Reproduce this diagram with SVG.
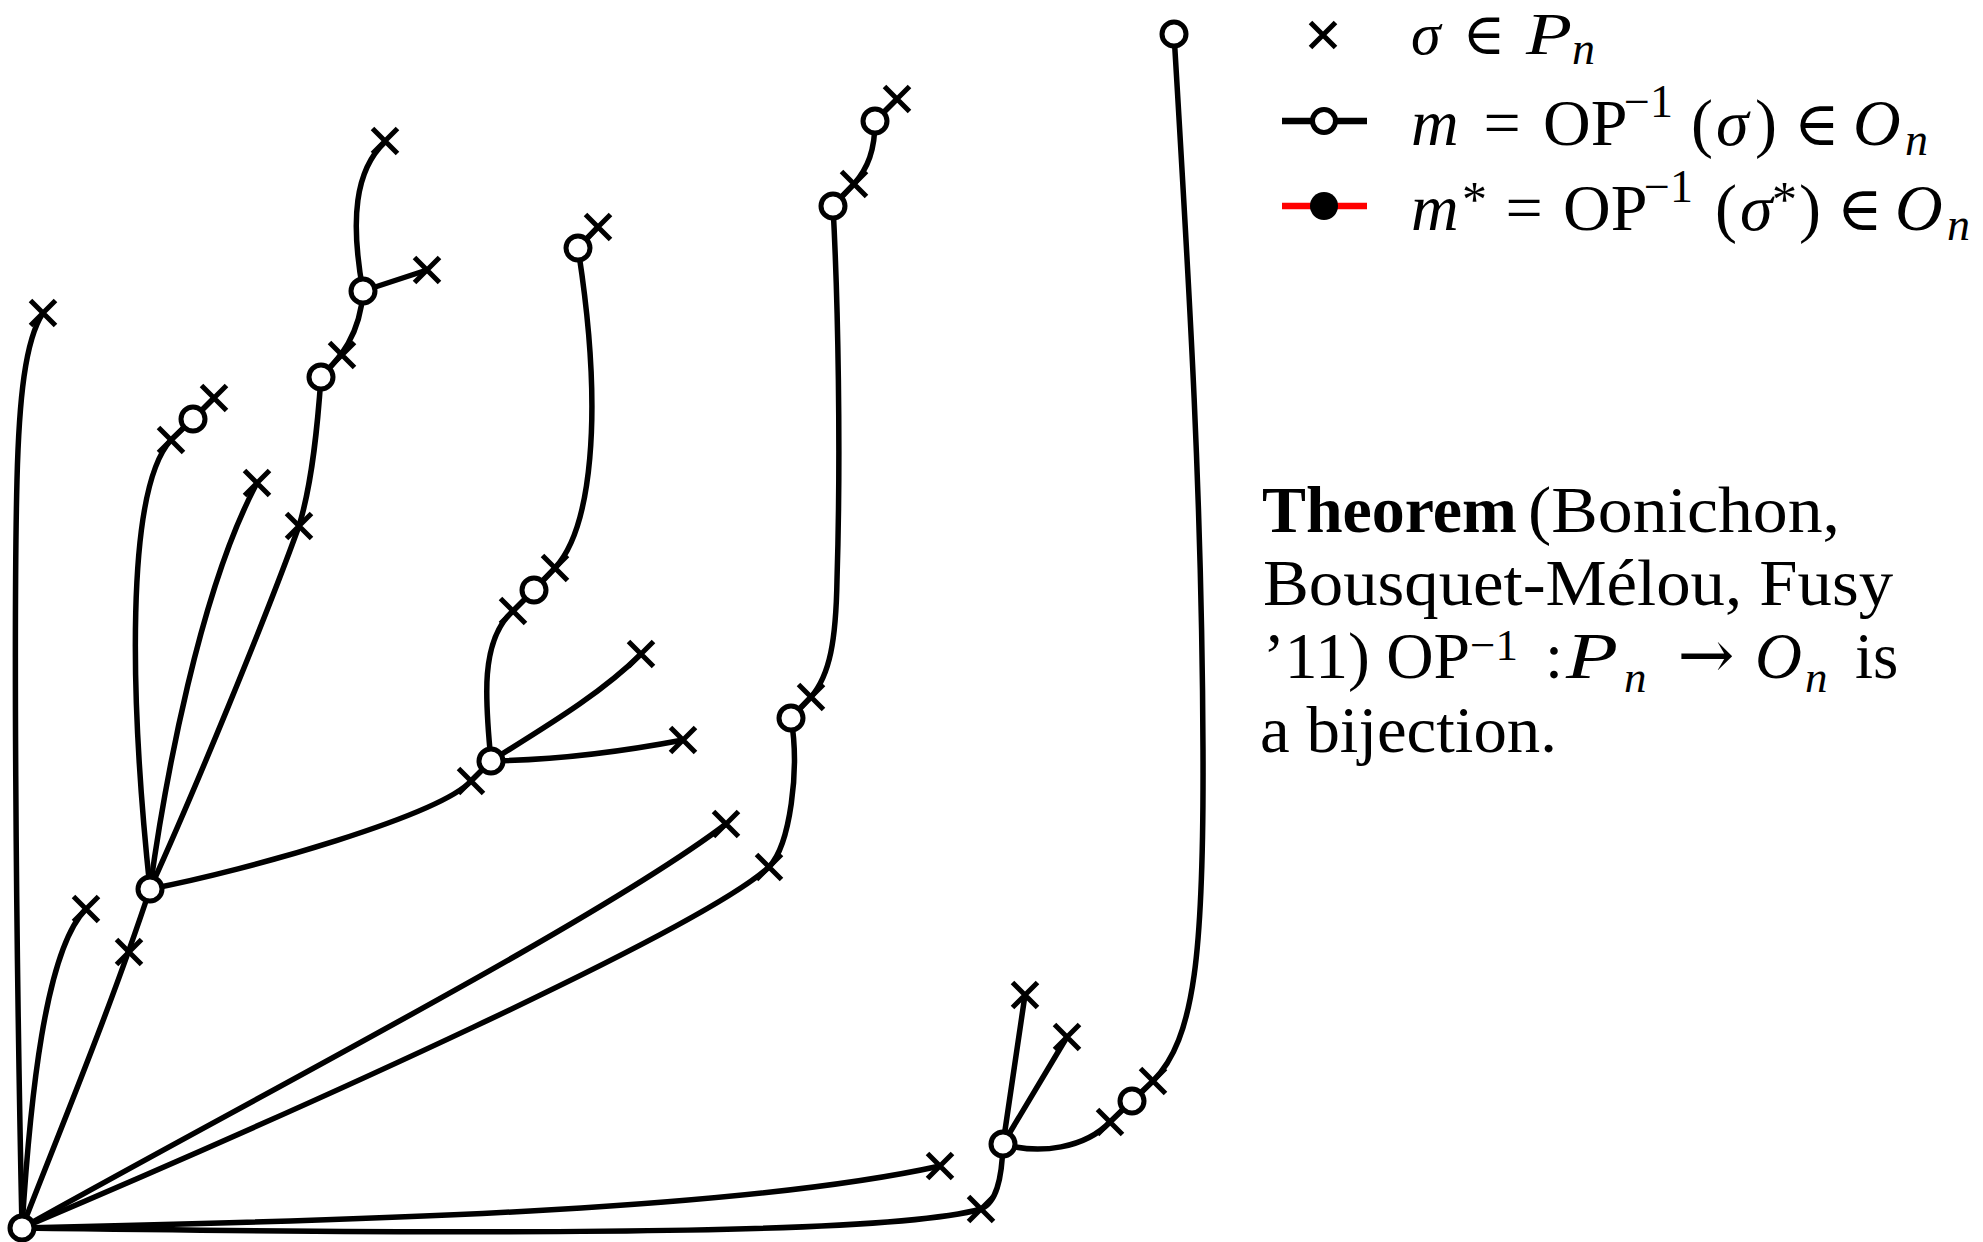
<svg xmlns="http://www.w3.org/2000/svg" xmlns:xlink="http://www.w3.org/1999/xlink" width="1983" height="1242" viewBox="0 0 1983 1242">
<style>
.e{fill:none;stroke:#000;stroke-width:5.5;stroke-linecap:round;stroke-linejoin:round}
.n{fill:#fff;stroke:#000;stroke-width:5}
.x{fill:none;stroke:#000;stroke-width:5}
.t{font-family:"Liberation Serif","DejaVu Serif",serif;font-size:65px;fill:#000}
.m{font-family:"Liberation Serif","DejaVu Serif",serif;font-size:66px;fill:#000}
.d{font-family:"DejaVu Serif",serif;text-anchor:middle}
.mid{text-anchor:middle}
.i{font-style:italic}
.s{font-size:46px}
</style>
<defs>
<path id="xm" d="M-12.5,-12.5L12.5,12.5M-12.5,12.5L12.5,-12.5"/>
</defs>
<rect width="1983" height="1242" fill="#fff"/>
<g id="connectors">
<path class="e" d="M22,1228 C15,900 14,600 17,480 C19,400 25,340 43,313"/>
<path class="e" d="M22,1228 C30,1100 45,950 86,909"/>
<path class="e" d="M22,1228 C60,1130 110,1010 150,889"/>
<path class="e" d="M150,889 C195,790 265,620 299,526 C313,480 318,420 321,377"/>
<path class="e" d="M321,377 C335,362 360,340 363,291"/>
<path class="e" d="M363,291 C350,220 355,170 385,142"/>
<path class="e" d="M363,291 L427,270"/>
<path class="e" d="M150,889 C165,780 200,590 257,483"/>
<path class="e" d="M150,889 C130,700 125,490 171,440 L193,419"/>
<path class="e" d="M193,419 L214,398"/>
<path class="e" d="M150,889 C250,870 440,815 471,781 L491,761"/>
<path class="e" d="M491,761 C485,700 480,640 513,611 L534,590"/>
<path class="e" d="M534,590 L555,568 C590,530 605,420 578,248"/>
<path class="e" d="M578,248 L598,227"/>
<path class="e" d="M491,761 C540,730 600,695 641,654"/>
<path class="e" d="M491,761 C560,760 620,752 683,740"/>
<path class="e" d="M22,1228 C250,1100 600,920 726,824"/>
<path class="e" d="M22,1228 C300,1110 700,930 769,867 C790,845 800,770 791,718"/>
<path class="e" d="M791,718 L811,697 C830,675 836,640 837,580 C841,450 838,300 833,206"/>
<path class="e" d="M833,206 L854,184 C868,168 875,150 875,121 L897,99"/>
<path class="e" d="M22,1228 C400,1220 750,1208 940,1166"/>
<path class="e" d="M22,1228 C600,1236 900,1232 981,1209 C996,1203 1002,1180 1003,1144"/>
<path class="e" d="M1003,1144 L1025,995"/>
<path class="e" d="M1003,1144 L1067,1037"/>
<path class="e" d="M1003,1144 C1040,1155 1085,1148 1110,1122 L1132,1101 L1153,1081 C1195,1040 1204,950 1203,750 C1202,500 1190,300 1174,34"/>
</g>
<g id="leaves">
<g id="s1"><use class="x" xlink:href="#xm" href="#xm" x="43" y="313"/></g>
<g id="s2"><use class="x" xlink:href="#xm" href="#xm" x="86" y="909"/></g>
<g id="s3"><use class="x" xlink:href="#xm" href="#xm" x="129" y="952"/></g>
<g id="s4"><use class="x" xlink:href="#xm" href="#xm" x="171" y="440"/></g>
<g id="s5"><use class="x" xlink:href="#xm" href="#xm" x="214" y="398"/></g>
<g id="s6"><use class="x" xlink:href="#xm" href="#xm" x="257" y="483"/></g>
<g id="s7"><use class="x" xlink:href="#xm" href="#xm" x="299" y="526"/></g>
<g id="s8"><use class="x" xlink:href="#xm" href="#xm" x="342" y="355"/></g>
<g id="s9"><use class="x" xlink:href="#xm" href="#xm" x="385" y="141"/></g>
<g id="s10"><use class="x" xlink:href="#xm" href="#xm" x="427" y="270"/></g>
<g id="s11"><use class="x" xlink:href="#xm" href="#xm" x="471" y="781"/></g>
<g id="s12"><use class="x" xlink:href="#xm" href="#xm" x="513" y="611"/></g>
<g id="s13"><use class="x" xlink:href="#xm" href="#xm" x="555" y="568"/></g>
<g id="s14"><use class="x" xlink:href="#xm" href="#xm" x="598" y="227"/></g>
<g id="s15"><use class="x" xlink:href="#xm" href="#xm" x="641" y="654"/></g>
<g id="s16"><use class="x" xlink:href="#xm" href="#xm" x="683" y="740"/></g>
<g id="s17"><use class="x" xlink:href="#xm" href="#xm" x="726" y="824"/></g>
<g id="s18"><use class="x" xlink:href="#xm" href="#xm" x="769" y="867"/></g>
<g id="s19"><use class="x" xlink:href="#xm" href="#xm" x="811" y="697"/></g>
<g id="s20"><use class="x" xlink:href="#xm" href="#xm" x="854" y="184"/></g>
<g id="s21"><use class="x" xlink:href="#xm" href="#xm" x="897" y="99"/></g>
<g id="s22"><use class="x" xlink:href="#xm" href="#xm" x="940" y="1166"/></g>
<g id="s23"><use class="x" xlink:href="#xm" href="#xm" x="981" y="1209"/></g>
<g id="s24"><use class="x" xlink:href="#xm" href="#xm" x="1025" y="995"/></g>
<g id="s25"><use class="x" xlink:href="#xm" href="#xm" x="1067" y="1037"/></g>
<g id="s26"><use class="x" xlink:href="#xm" href="#xm" x="1110" y="1122"/></g>
<g id="s27"><use class="x" xlink:href="#xm" href="#xm" x="1153" y="1081"/></g>
</g>
<g id="nodes">
<g id="nR"><circle class="n" cx="22" cy="1228" r="12"/></g>
<g id="nA"><circle class="n" cx="150" cy="889" r="12"/></g>
<g id="nC"><circle class="n" cx="193" cy="419" r="12"/></g>
<g id="nB2"><circle class="n" cx="321" cy="377" r="12"/></g>
<g id="nB1"><circle class="n" cx="363" cy="291" r="12"/></g>
<g id="nF"><circle class="n" cx="491" cy="761" r="12"/></g>
<g id="nD2"><circle class="n" cx="534" cy="590" r="12"/></g>
<g id="nD1"><circle class="n" cx="578" cy="248" r="12"/></g>
<g id="nG"><circle class="n" cx="791" cy="718" r="12"/></g>
<g id="nE2"><circle class="n" cx="833" cy="206" r="12"/></g>
<g id="nE1"><circle class="n" cx="875" cy="121" r="12"/></g>
<g id="nH"><circle class="n" cx="1003" cy="1144" r="12"/></g>
<g id="nI"><circle class="n" cx="1132" cy="1101" r="12"/></g>
<g id="nJ"><circle class="n" cx="1174" cy="34" r="12"/></g>
</g>
<g id="legend">
<use class="x" xlink:href="#xm" href="#xm" x="1323" y="35"/>
<line x1="1282" y1="121" x2="1367" y2="121" stroke="#000" stroke-width="6.5"/>
<circle class="n" cx="1324" cy="121" r="11.5"/>
<line x1="1282" y1="206" x2="1367" y2="206" stroke="#ff0000" stroke-width="6.5"/>
<circle cx="1324" cy="206" r="14" fill="#000"/>
<g class="m">
<text x="1411" y="54" class="i" font-size="60">σ</text>
<text x="1484" y="54" class="d" font-size="58">∈</text>
<text x="1526" y="54" class="i" font-size="60" textLength="46" lengthAdjust="spacingAndGlyphs">P</text>
<text x="1572" y="64" class="i s">n</text>
<text x="1411" y="145" class="i">m</text>
<text x="1502" y="145" class="mid">=</text>
<text x="1543" y="145">OP</text>
<text x="1624" y="117" class="s">−1</text>
<text x="1691" y="145">(</text>
<text x="1716" y="145" class="i">σ</text>
<text x="1755" y="145">)</text>
<text x="1817" y="145" class="d" font-size="62">∈</text>
<text x="1853" y="145" class="i">O</text>
<text x="1905" y="155" class="i s">n</text>
<text x="1411" y="230" class="i">m</text>
<text x="1462" y="216" font-size="50">*</text>
<text x="1524" y="230" class="mid">=</text>
<text x="1563" y="230">OP</text>
<text x="1644" y="202" class="s">−1</text>
<text x="1715" y="230">(</text>
<text x="1740" y="230" class="i">σ</text>
<text x="1772" y="216" font-size="50">*</text>
<text x="1799" y="230">)</text>
<text x="1860" y="230" class="d" font-size="62">∈</text>
<text x="1895" y="230" class="i">O</text>
<text x="1947" y="240" class="i s">n</text>
</g>
</g>
<g id="theorem" class="t">
<text x="1262" y="532" font-weight="bold" textLength="255" lengthAdjust="spacingAndGlyphs">Theorem</text>
<text x="1528" y="532" textLength="312" lengthAdjust="spacingAndGlyphs">(Bonichon,</text>
<text x="1263" y="605" textLength="630" lengthAdjust="spacingAndGlyphs">Bousquet-Mélou, Fusy</text>
<text x="1263" y="678" textLength="207" lengthAdjust="spacingAndGlyphs">’11) OP</text>
<text x="1470" y="660" font-size="45">−1</text>
<text x="1545" y="678">:</text>
<text x="1566" y="678" font-style="italic" textLength="52" lengthAdjust="spacingAndGlyphs">P</text>
<text x="1624" y="692" font-size="45" font-style="italic">n</text>
<text x="1706" y="678" font-size="68" class="d">→</text>
<text x="1755" y="678" font-style="italic">O</text>
<text x="1805" y="692" font-size="45" font-style="italic">n</text>
<text x="1855" y="678">is</text>
<text x="1260" y="752" textLength="297" lengthAdjust="spacingAndGlyphs">a bijection.</text>
</g>
</svg>
